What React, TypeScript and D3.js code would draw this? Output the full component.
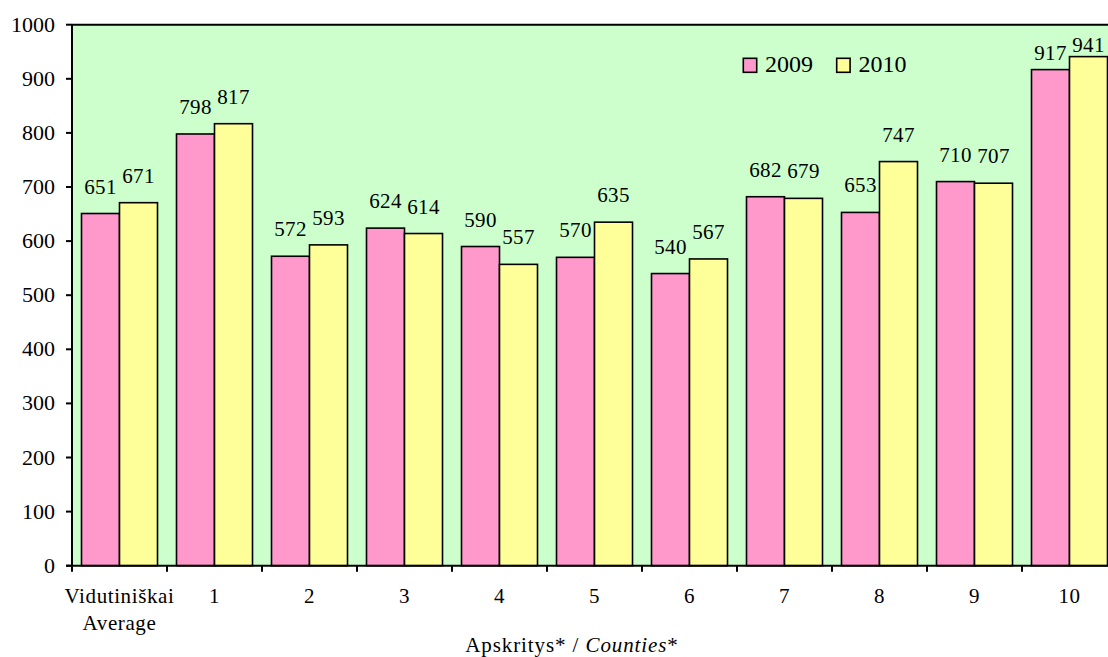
import React from "react";
import * as d3 from "d3";

const categories = ["Vidutiniškai|Average", "1", "2", "3", "4", "5", "6", "7", "8", "9", "10"];
const series2009 = [651, 798, 572, 624, 590, 570, 540, 682, 653, 710, 917];
const series2010 = [671, 817, 593, 614, 557, 635, 567, 679, 747, 707, 941];
const seriesNames = ["2009", "2010"];
const yTicks = [0, 100, 200, 300, 400, 500, 600, 700, 800, 900, 1000];

const W = 1108, H = 657;
const left = 72, right = 1117, top = 24.7, bottom = 565.7;
const colors = ["#FF99CC", "#FFFF99"];
const ts = { fontFamily: "Liberation Serif" };

export default function App() {
  const x = d3.scaleBand<string>().domain(categories).range([left, right]).paddingInner(0.2).paddingOuter(0.1);
  const step = x.step();
  const y = d3.scaleLinear().domain([0, 1000]).range([bottom, top]);
  const barW = 38;
  const data = [series2009, series2010];
  const maxVal = d3.max(series2010.concat(series2009)) as number;
  return (
    <svg width={W} height={H} style={{ position: "absolute", left: 0, top: 0 }}>
      <rect x={left} y={top} width={right - left} height={bottom - top} fill="#CCFFCC" />
      {categories.map((c, i) => {
        const cx = left + step * i + step / 2;
        return data.map((s, k) => {
          const x0 = cx - barW + k * barW;
          let ly = y(s[i]) - 20;
          if (ly < 52) ly = s[i] === maxVal ? 52 : 60;
          return (
            <g key={c + k}>
              <rect x={x0} y={y(s[i])} width={barW} height={bottom - y(s[i])} fill={colors[k]} stroke="#000" strokeWidth={1.6} />
              <text style={ts} x={x0 + barW / 2} y={ly} textAnchor="middle" fontSize={21} letterSpacing={0.3} fill="#000">{s[i]}</text>
            </g>
          );
        });
      })}
      <line x1={left} x2={W} y1={top} y2={top} stroke="#000" strokeWidth={2} />
      <line x1={left} x2={left} y1={top} y2={bottom + 6} stroke="#000" strokeWidth={2} />
      <line x1={left - 6} x2={W} y1={bottom} y2={bottom} stroke="#000" strokeWidth={2} />
      {yTicks.map((t) => (
        <g key={t}>
          <line x1={left - 6} x2={left} y1={y(t)} y2={y(t)} stroke="#000" strokeWidth={2} />
          <text style={ts} x={55} y={y(t) + 7} textAnchor="end" fontSize={22} fill="#000">{t}</text>
        </g>
      ))}
      {categories.map((c, i) => {
        const cx = left + step * i + step / 2;
        const tx = left + step * (i + 1);
        const parts = c.split("|");
        return (
          <g key={"x" + c}>
            {tx < W && <line x1={tx} x2={tx} y1={bottom} y2={bottom + 6} stroke="#000" strokeWidth={2} />}
            {parts.map((p, j) => (
              <text style={ts} key={j} x={cx} y={603 + j * 27} textAnchor="middle" fontSize={21} letterSpacing={0.6} fill="#000">{p}</text>
            ))}
          </g>
        );
      })}
      <text style={ts} x={572} y={652} textAnchor="middle" fontSize={21} letterSpacing={0.9} fill="#000">
        Apskritys* / <tspan fontStyle="italic">Counties</tspan>*
      </text>
      {seriesNames.map((n, k) => (
        <g key={n}>
          <rect x={743.3 + k * 93.4} y={58.3} width={13.4} height={14} fill={colors[k]} stroke="#000" strokeWidth={1.6} />
          <text style={ts} x={765 + k * 93.4} y={72.3} fontSize={24} fill="#000">{n}</text>
        </g>
      ))}
    </svg>
  );
}
